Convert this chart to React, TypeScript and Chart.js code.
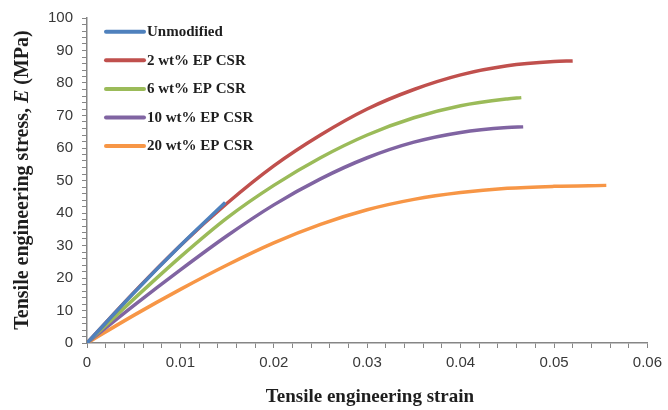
import React, { useEffect, useRef } from "react";
import { Chart, registerables } from "chart.js";

Chart.register(...registerables);

const seriesNames = ["Unmodified", "2 wt% EP CSR", "6 wt% EP CSR", "10 wt% EP CSR", "20 wt% EP CSR"];
const seriesColors = ["#4F81BD", "#C0504D", "#9BBB59", "#8064A2", "#F79646"];

const strainUnmod = [0, 0.005, 0.01, 0.0148];
const stressUnmod = [0, 15.4, 30, 43.2];

const strain2 = [0, 0.005, 0.01, 0.015, 0.02, 0.025, 0.03, 0.035, 0.04, 0.045, 0.05, 0.052];
const stress2 = [0, 15.5, 30, 43, 54.5, 64, 72, 78, 82.5, 85.3, 86.6, 86.8];

const strain6 = [0, 0.005, 0.01, 0.015, 0.02, 0.025, 0.03, 0.035, 0.04, 0.045, 0.0465];
const stress6 = [0, 13.5, 26.5, 38.5, 48.5, 57, 64, 69.3, 73, 75.1, 75.5];

const strain10 = [0, 0.005, 0.01, 0.015, 0.02, 0.025, 0.03, 0.035, 0.04, 0.045, 0.0467];
const stress10 = [0, 11.5, 22.5, 33, 42.5, 50.5, 57, 61.8, 64.8, 66.3, 66.5];

const strain20 = [0, 0.005, 0.01, 0.015, 0.02, 0.025, 0.03, 0.035, 0.04, 0.045, 0.05, 0.0556];
const stress20 = [0, 8.5, 16.5, 24, 30.8, 36.5, 41, 44.2, 46.3, 47.6, 48.2, 48.5];

const xTickLabels = ["0", "0.01", "0.02", "0.03", "0.04", "0.05", "0.06"];
const yTickLabels = ["0", "10", "20", "30", "40", "50", "60", "70", "80", "90", "100"];

const seriesStrain = [strainUnmod, strain2, strain6, strain10, strain20];
const seriesStress = [stressUnmod, stress2, stress6, stress10, stress20];

const overlayPlugin = {
  id: "overlay",
  afterDraw(chart: any) {
    const ctx = chart.ctx;
    ctx.save();
    // legend
    chart.data.datasets.forEach((ds: any, i: number) => {
      const y = 31.7 + 28.6 * i;
      ctx.strokeStyle = ds.borderColor;
      ctx.lineWidth = 4;
      ctx.lineCap = "round";
      ctx.beginPath();
      ctx.moveTo(106, y);
      ctx.lineTo(144, y);
      ctx.stroke();
      ctx.fillStyle = "#1e1e1e";
      ctx.font = "bold 15px 'Liberation Serif'";
      ctx.textBaseline = "middle";
      ctx.textAlign = "left";
      ctx.fillText(ds.label, 147, y + 0.5);
    });
    // x title
    ctx.fillStyle = "#1e1e1e";
    ctx.font = "bold 19px 'Liberation Serif'";
    ctx.textAlign = "center";
    ctx.textBaseline = "middle";
    ctx.fillText("Tensile engineering strain", 370, 397);
    // y title with italic E
    const fs = 20;
    const parts = [
      { t: "Tensile engineering stress, ", f: `bold ${fs}px 'Liberation Serif'` },
      { t: "E", f: `italic bold ${fs}px 'Liberation Serif'` },
      { t: " (MPa)", f: `bold ${fs}px 'Liberation Serif'` },
    ];
    let total = 0;
    parts.forEach((p) => {
      ctx.font = p.f;
      total += ctx.measureText(p.t).width;
    });
    ctx.translate(23, 180);
    ctx.rotate(-Math.PI / 2);
    ctx.textAlign = "left";
    let x = -total / 2;
    parts.forEach((p) => {
      ctx.font = p.f;
      ctx.fillText(p.t, x, 0);
      x += ctx.measureText(p.t).width;
    });
    ctx.restore();
  },
};

export default function App() {
  const ref = useRef<HTMLCanvasElement | null>(null);
  useEffect(() => {
    if (!ref.current) return;
    const datasets = seriesNames.map((name, i) => ({
      label: name,
      data: seriesStrain[i].map((s, j) => ({ x: s, y: seriesStress[i][j] })),
      borderColor: seriesColors[i],
      backgroundColor: seriesColors[i],
      borderWidth: 3.5,
      pointRadius: 0,
      cubicInterpolationMode: "monotone" as const,
      fill: false,
    }));
    const axisColor = "#868686";
    const chart = new Chart(ref.current, {
      type: "line",
      data: { datasets: datasets as any },
      options: {
        animation: false,
        responsive: false,
        maintainAspectRatio: false,
        layout: { padding: { left: 0, right: 17, top: 17, bottom: 0 } },
        plugins: { legend: { display: false }, tooltip: { enabled: false } },
        scales: {
          x: {
            type: "linear",
            min: 0,
            max: 0.06,
            afterFit: (s: any) => {
              s.height = 67;
            },
            afterBuildTicks: (s: any) => {
              const t = [];
              for (let i = 0; i <= 30; i++) t.push({ value: i * 0.002 });
              s.ticks = t;
            },
            ticks: {
              autoSkip: false,
              maxRotation: 0,
              padding: 6,
              color: "#383838",
              font: { family: "'Liberation Sans'", size: 15 },
              callback: (_v: any, idx: number) => (idx % 5 === 0 ? xTickLabels[idx / 5] : ""),
            },
            grid: { drawOnChartArea: false, drawTicks: true, tickLength: 5, color: axisColor, tickColor: axisColor },
            border: { color: axisColor, width: 1.5 },
          },
          y: {
            type: "linear",
            min: 0,
            max: 100,
            afterFit: (s: any) => {
              s.width = 87;
            },
            afterBuildTicks: (s: any) => {
              const t = [];
              for (let i = 0; i <= 50; i++) t.push({ value: i * 2 });
              s.ticks = t;
            },
            ticks: {
              autoSkip: false,
              padding: 9,
              color: "#383838",
              font: { family: "'Liberation Sans'", size: 15 },
              callback: (_v: any, idx: number) => (idx % 5 === 0 ? yTickLabels[idx / 5] : ""),
            },
            grid: { drawOnChartArea: false, drawTicks: true, tickLength: 5, color: axisColor, tickColor: axisColor },
            border: { color: axisColor, width: 1.5 },
          },
        },
      },
      plugins: [overlayPlugin],
    });
    return () => chart.destroy();
  }, []);
  return (
    <div style={{ position: "fixed", left: 0, top: 0, width: 668, height: 410, background: "#fff" }}>
      <canvas ref={ref} width={668} height={410} style={{ width: 668, height: 410, display: "block" }} />
    </div>
  );
}
